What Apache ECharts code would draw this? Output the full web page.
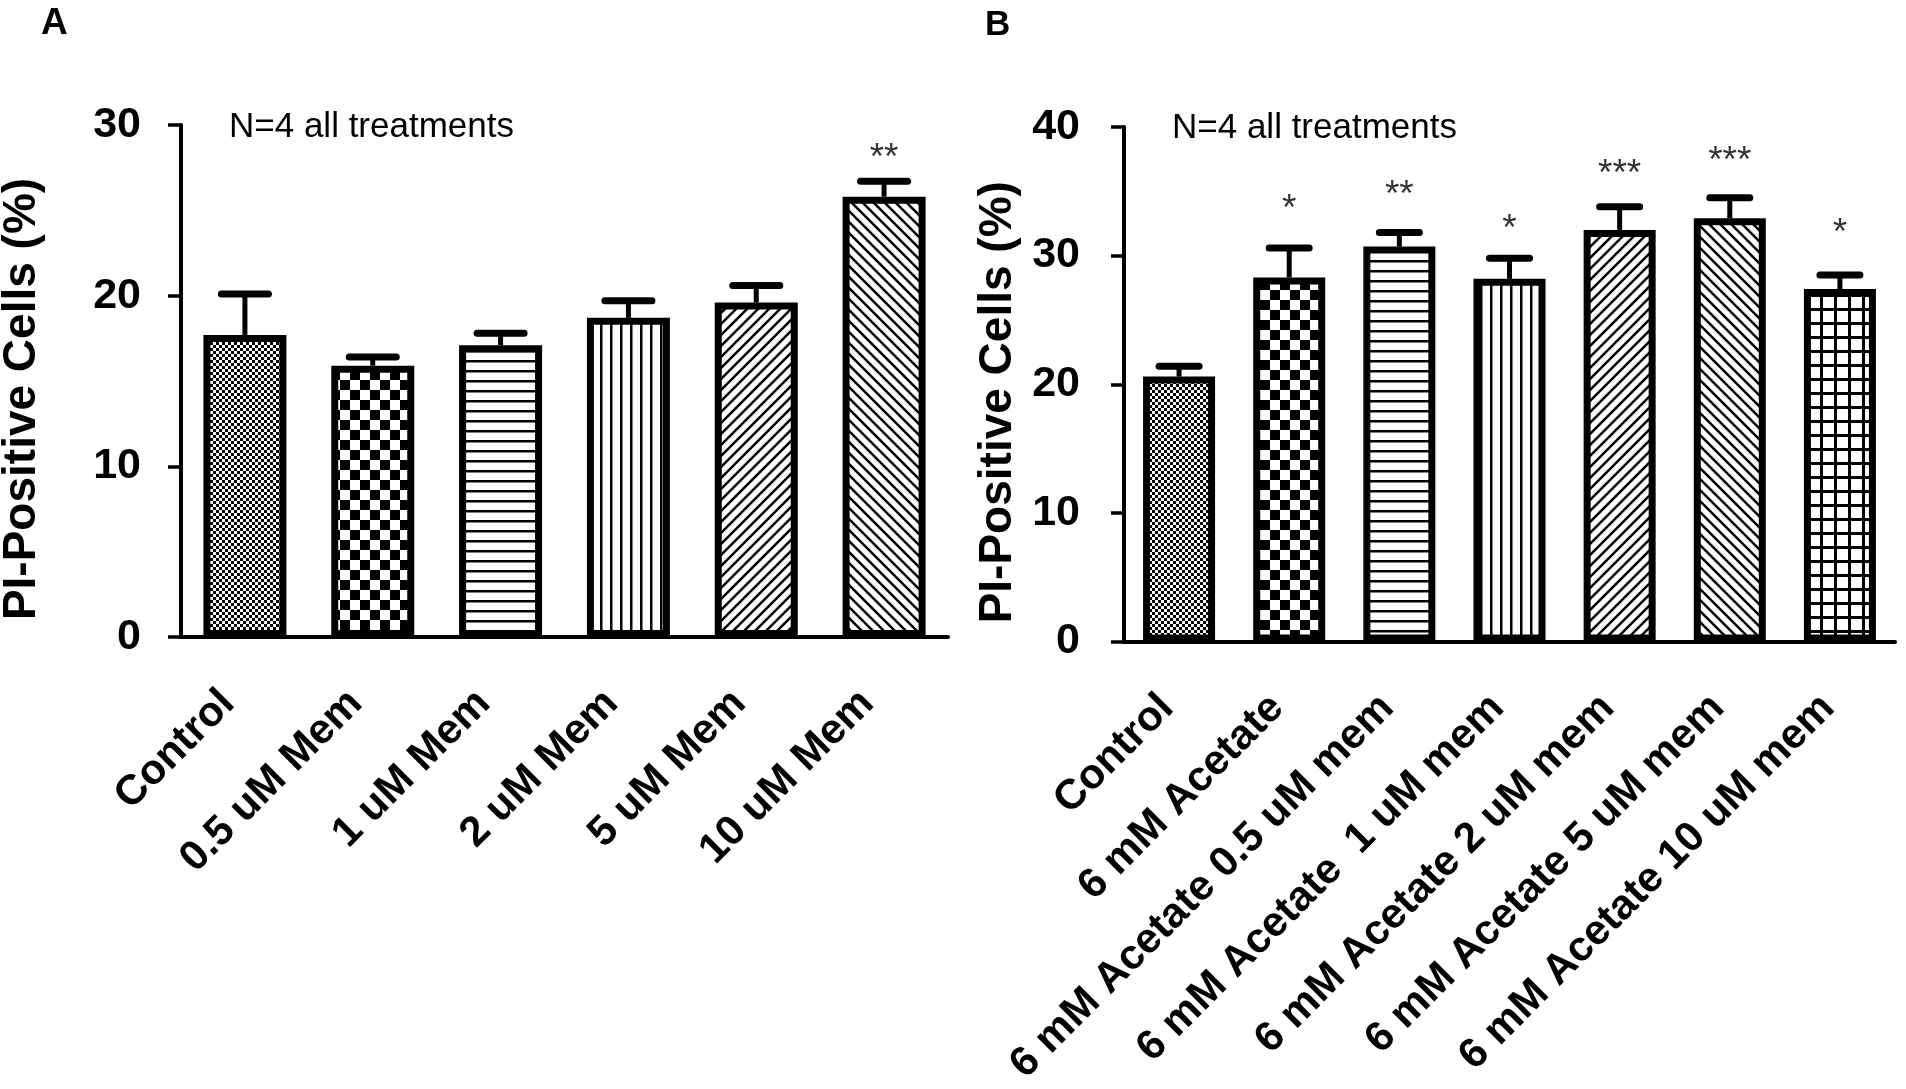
<!DOCTYPE html>
<html>
<head>
<meta charset="utf-8">
<script src="https://cdn.jsdelivr.net/npm/echarts@6/dist/echarts.min.js"></script>
<style>
html,body{margin:0;padding:0;background:#fff;}
#chart{width:1906px;height:1089px;}
</style>
</head>
<body>
<div id="chart"></div>
<script>
// ---------- DATA ----------
const catsA = ['Control', '0.5 uM Mem', '1 uM Mem', '2 uM Mem', '5 uM Mem', '10 uM Mem'];
const meanA = [17.7, 15.9, 17.1, 18.7, 19.6, 25.8];
const semA  = [2.4, 0.5, 0.7, 1.0, 1.0, 0.9];
const starA = ['', '', '', '', '', '**'];
const starPosA = [null, null, null, null, null, 28.5];

const catsB = ['Control', '6 mM Acetate', '6 mM Acetate 0.5 uM mem', '6 mM Acetate  1 uM mem',
               '6 mM Acetate 2 uM mem', '6 mM Acetate 5 uM mem', '6 mM Acetate 10 uM mem'];
const meanB = [20.6, 28.3, 30.7, 28.2, 32.0, 32.9, 27.4];
const semB  = [0.8, 2.3, 1.1, 1.6, 1.8, 1.6, 1.1];
const starB = ['', '*', '**', '*', '***', '***', '*'];
const starPosB = [null, 34.2, 35.3, 32.6, 36.9, 37.9, 32.3];

const ticksA = [0, 10, 20, 30];
const ticksB = [0, 10, 20, 30, 40];
const yTitle = 'PI-Positive Cells (%)';
const noteText = 'N=4 all treatments';

// ---------- PATTERNS ----------
function makePattern(kind, p, lw) {
  const c = document.createElement('canvas');
  c.width = p; c.height = p;
  const ctx = c.getContext('2d');
  ctx.fillStyle = '#fff'; ctx.fillRect(0, 0, p, p);
  ctx.fillStyle = '#000'; ctx.strokeStyle = '#000'; ctx.lineWidth = lw || 2;
  const h = p / 2;
  if (kind === 'checker') {
    ctx.fillRect(0, 0, h, h); ctx.fillRect(h, h, h, h);
  } else if (kind === 'h') {
    ctx.fillRect(0, 0, p, lw);
  } else if (kind === 'v') {
    ctx.fillRect(0, 0, lw, p);
  } else if (kind === 'grid') {
    ctx.fillRect(0, 0, p, lw); ctx.fillRect(0, 0, lw, p);
  } else if (kind === 'fwd') {
    ctx.beginPath();
    [0, p, 2 * p].forEach(cc => { ctx.moveTo(cc - 2 * p, 2 * p); ctx.lineTo(cc + p, -p); });
    ctx.stroke();
  } else if (kind === 'back') {
    ctx.beginPath();
    [-p, 0, p].forEach(cc => { ctx.moveTo(cc - p, -p); ctx.lineTo(cc + 2 * p, 2 * p); });
    ctx.stroke();
  }
  return { image: c, repeat: 'repeat' };
}
const patsA = [
  makePattern('checker', 6), makePattern('checker', 20), makePattern('h', 10, 2.5),
  makePattern('v', 10, 2.5), makePattern('fwd', 11, 2.5), makePattern('back', 11, 2.5)
];
const patsB = [
  makePattern('checker', 6), makePattern('checker', 20), makePattern('h', 10, 2.5),
  makePattern('v', 10, 2.5), makePattern('fwd', 11, 2.5), makePattern('back', 11, 2.5),
  makePattern('grid', 14, 3)
];

// ---------- STYLE ----------
const FF = '"Liberation Sans", Arial, Helvetica, sans-serif';
const BLACK = '#000';

function xAxisCfg(cats, gridIndex, margin, pad) {
  return {
    type: 'category', gridIndex, data: cats,
    axisLine: { lineStyle: { color: BLACK, width: 4 } },
    axisTick: { alignWithLabel: true, length: 14, lineStyle: { color: BLACK, width: 3.5 } },
    axisLabel: { interval: 0, rotate: 45, margin: margin, color: BLACK, fontFamily: FF,
                 fontWeight: 'bold', fontSize: 42, padding: pad },
    splitLine: { show: false }
  };
}
function yAxisCfg(ticks, gridIndex, nameGap, labelMargin) {
  return {
    type: 'value', gridIndex, min: ticks[0], max: ticks[ticks.length - 1],
    interval: ticks[1] - ticks[0],
    name: yTitle, nameLocation: 'middle', nameGap,
    nameTextStyle: { fontFamily: FF, fontWeight: 'bold', fontSize: 46, color: BLACK,
                     padding: [0, 36, 0, 0] },
    axisLine: { show: true, lineStyle: { color: BLACK, width: 4 } },
    axisTick: { show: true, length: 13, lineStyle: { color: BLACK, width: 3.5 } },
    axisLabel: { margin: labelMargin, color: BLACK, fontFamily: FF, fontWeight: 'bold', fontSize: 43 },
    splitLine: { show: false }
  };
}

function barSeries(means, pats, idx, barW) {
  return {
    type: 'bar', xAxisIndex: idx, yAxisIndex: idx, barWidth: barW, z: 3,
    data: means.map((v, i) => ({
      value: v,
      itemStyle: { color: pats[i], borderColor: BLACK, borderWidth: 7 }
    })),
    animation: false
  };
}
function errSeries(means, sems, idx, capW) {
  return {
    type: 'custom', xAxisIndex: idx, yAxisIndex: idx, z: 4,
    data: means.map((m, i) => [i, m, m + sems[i]]),
    renderItem: function (params, api) {
      const base = api.coord([api.value(0), api.value(1)]);
      const top = api.coord([api.value(0), api.value(2)]);
      return {
        type: 'group',
        children: [
          { type: 'line', shape: { x1: base[0], y1: base[1], x2: top[0], y2: top[1] },
            style: { stroke: BLACK, lineWidth: 5 } },
          { type: 'line', shape: { x1: top[0] - capW / 2, y1: top[1], x2: top[0] + capW / 2, y2: top[1] },
            style: { stroke: BLACK, lineWidth: 7, lineCap: 'round' } }
        ]
      };
    },
    animation: false
  };
}
function starSeries(pos, labels, idx) {
  return {
    type: 'scatter', xAxisIndex: idx, yAxisIndex: idx, symbolSize: 0, z: 5,
    data: pos.map((v, i) => [i, v]).filter(d => d[1] !== null),
    label: {
      show: true, position: 'inside', offset: [0, 8],
      formatter: p => labels[p.data[0]],
      fontFamily: FF, fontSize: 37, color: BLACK
    },
    animation: false
  };
}

const chart = echarts.init(document.getElementById('chart'), null, { renderer: 'canvas' });
chart.setOption({
  backgroundColor: '#fff',
  animation: false,
  title: [
    { text: 'A', left: 36, top: 0, textStyle: { fontFamily: FF, fontWeight: 'bold', fontSize: 37, color: BLACK } },
    { text: 'B', left: 980, top: 3, textStyle: { fontFamily: FF, fontWeight: 'bold', fontSize: 35, color: BLACK } }
  ],
  graphic: [
    { type: 'text', left: 229, top: 110, style: { text: noteText, font: '35px ' + FF, fill: BLACK } },
    { type: 'text', left: 1172, top: 111, style: { text: noteText, font: '35px ' + FF, fill: BLACK } }
  ],
  grid: [
    { left: 181, top: 125, width: 767, height: 512, containLabel: false, outerBoundsMode: 'none' },
    { left: 1124, top: 127, width: 771, height: 514.5, containLabel: false, outerBoundsMode: 'none' }
  ],
  xAxis: [xAxisCfg(catsA, 0, 43, [0, 24, 0, 0]), xAxisCfg(catsB, 1, 48, [0, 17, 0, 0])],
  yAxis: [yAxisCfg(ticksA, 0, 136, 40), yAxisCfg(ticksB, 1, 103, 44)],
  series: [
    barSeries(meanA, patsA, 0, 83),
    errSeries(meanA, semA, 0, 47),
    starSeries(starPosA, starA, 0),
    barSeries(meanB, patsB, 1, 72),
    errSeries(meanB, semB, 1, 40),
    starSeries(starPosB, starB, 1)
  ]
});
</script>
</body>
</html>
